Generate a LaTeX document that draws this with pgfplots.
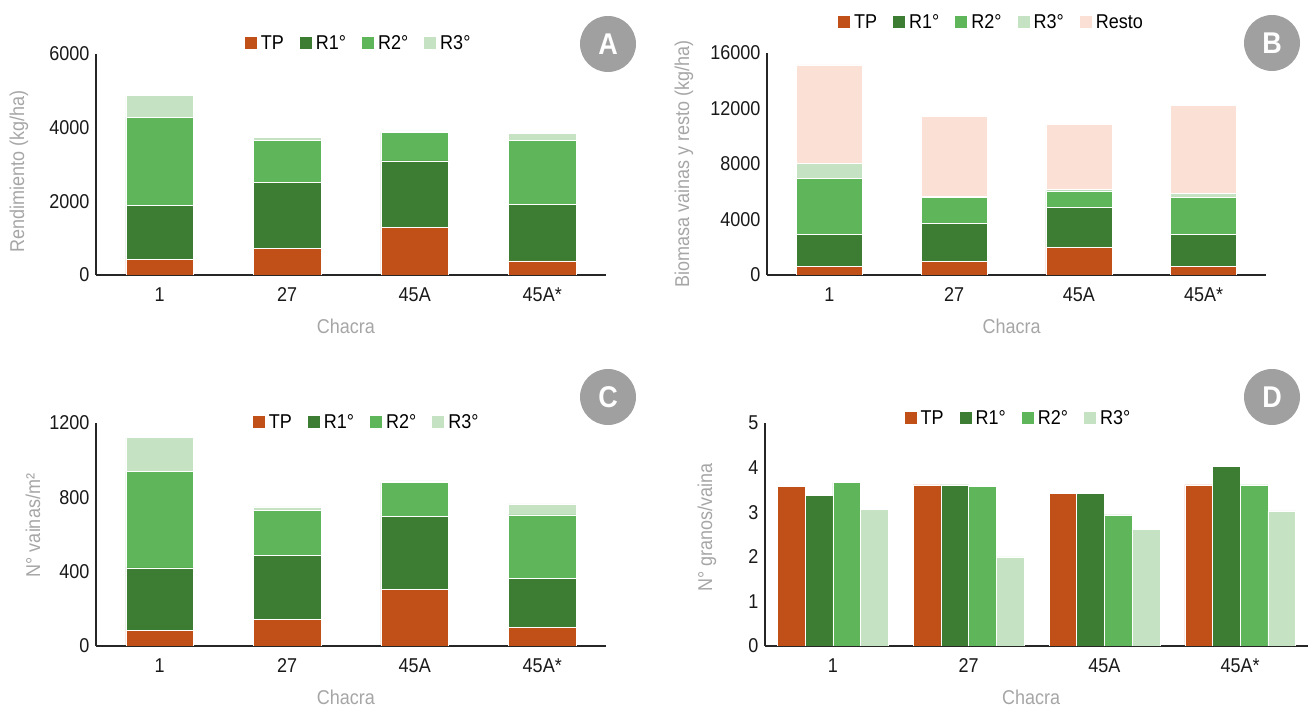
\documentclass[border=0pt]{standalone}
\usepackage{fontspec}
\setmainfont{Liberation Sans}[FakeStretch=0.9]
\usepackage{pgfplots}
\pgfplotsset{compat=1.18}
\definecolor{cTP}{RGB}{192,79,24}
\definecolor{cR1}{RGB}{61,125,51}
\definecolor{cR2}{RGB}{95,181,90}
\definecolor{cR3}{RGB}{197,226,195}
\definecolor{cRe}{RGB}{251,224,213}
\definecolor{labgray}{RGB}{166,166,166}
\definecolor{circgray}{RGB}{160,160,160}
\newcommand\fs{\fontsize{20}{24}\selectfont}
\pgfplotsset{
 panel/.style={
  scale only axis, anchor=south west,
  axis x line*=bottom, axis y line*=left,
  axis line style={line width=1.2pt, black!85, -},
  major tick length=0pt,
  xmin=-0.5, xmax=3.5, xtick={0,1,2,3}, xticklabels={1,27,45A,45A*},
  ymin=0, scaled y ticks=false,
  tick label style={font=\fs, text=black!90},
  xticklabel style={yshift=-9pt},
  yticklabel style={xshift=-3pt},
  /pgf/number format/assume math mode=true,
  /pgf/number format/1000 sep={},
  label style={font=\fs, text=labgray},
  legend style={draw=none, fill=none, font=\fs,
    legend columns=-1, anchor=center,
    nodes={inner sep=1pt},
    /tikz/every odd column/.append style={column sep=3pt},
    /tikz/every even column/.append style={column sep=15pt}},
  xlabel=Chacra,
  xlabel style={at={(rel axis cs:0.49,0)}, anchor=center, yshift=-51pt},
 },
 sqleg/.style={legend image code/.code={\fill[##1, draw=none] (0pt,-6pt) rectangle (12pt,6pt);}},
 stk/.style={ybar stacked, bar width=0.53, draw=white, line width=0.5pt, sqleg},
}
\begin{document}
\begin{tikzpicture}
\useasboundingbox (0,0) rectangle (1309pt,706pt);
% ---------- A ----------
\begin{axis}[panel, stk, at={(96pt,431pt)}, width=510pt, height=221pt,
  ymax=6000, ytick={0,2000,4000,6000},
  ylabel={Rendimiento (kg/ha)},
  ylabel style={at={([xshift=-77pt]rel axis cs:0,0.47)}, anchor=center},
  legend style={at={(rel axis cs:0.514,1.05)}}]
\addplot[fill=cTP] coordinates {(0,430) (1,720) (2,1300) (3,380)};
\addplot[fill=cR1] coordinates {(0,1460) (1,1790) (2,1800) (3,1540)};
\addplot[fill=cR2] coordinates {(0,2390) (1,1140) (2,770) (3,1730)};
\addplot[fill=cR3] coordinates {(0,590) (1,85) (2,45) (3,195)};
\legend{TP,R1°,R2°,R3°}
\end{axis}
% ---------- B ----------
\begin{axis}[panel, stk, at={(767pt,431pt)}, width=499pt, height=222pt,
  ymax=16000, ytick={0,4000,8000,12000,16000},
  ylabel={Biomasa vainas y resto (kg/ha)},
  ylabel style={at={([xshift=-83pt]rel axis cs:0,0.5)}, anchor=center},
  legend style={at={(rel axis cs:0.449,1.14)}}]
\addplot[fill=cTP] coordinates {(0,625) (1,990) (2,2000) (3,625)};
\addplot[fill=cR1] coordinates {(0,2305) (1,2740) (2,2880) (3,2305)};
\addplot[fill=cR2] coordinates {(0,4020) (1,1870) (2,1180) (3,2670)};
\addplot[fill=cR3] coordinates {(0,1080) (1,70) (2,90) (3,290)};
\addplot[fill=cRe] coordinates {(0,7110) (1,5770) (2,4690) (3,6320)};
\legend{TP,R1°,R2°,R3°,Resto}
\end{axis}
% ---------- C ----------
\begin{axis}[panel, stk, at={(96pt,60pt)}, width=510pt, height=223pt,
  ymax=1200, ytick={0,400,800,1200},
  ylabel={N° vainas/m²},
  ylabel style={at={([xshift=-63pt]rel axis cs:0,0.54)}, anchor=center},
  legend style={at={(rel axis cs:0.53,1.004)}}]
\addplot[fill=cTP] coordinates {(0,85) (1,142) (2,304) (3,99)};
\addplot[fill=cR1] coordinates {(0,336) (1,344) (2,392) (3,266)};
\addplot[fill=cR2] coordinates {(0,518) (1,243) (2,184) (3,340)};
\addplot[fill=cR3] coordinates {(0,182) (1,19) (2,9) (3,60)};
\legend{TP,R1°,R2°,R3°}
\end{axis}
% ---------- D ----------
\begin{axis}[panel, at={(765pt,60pt)}, width=543pt, height=223pt,
  ybar=0pt, bar width=0.204, sqleg,
  ymax=5, ytick={0,1,2,3,4,5},
  ylabel={N° granos/vaina},
  ylabel style={at={([xshift=-58pt]rel axis cs:0,0.53)}, anchor=center},
  legend style={at={(rel axis cs:0.466,1.022)}}]
\addplot[fill=cTP, draw=white, line width=0.5pt] coordinates {(0,3.58) (1,3.61) (2,3.43) (3,3.61)};
\addplot[fill=cR1, draw=white, line width=0.5pt] coordinates {(0,3.37) (1,3.61) (2,3.43) (3,4.03)};
\addplot[fill=cR2, draw=white, line width=0.5pt] coordinates {(0,3.67) (1,3.58) (2,2.94) (3,3.61)};
\addplot[fill=cR3, draw=white, line width=0.5pt] coordinates {(0,3.07) (1,2.00) (2,2.61) (3,3.03)};
\legend{TP,R1°,R2°,R3°}
\end{axis}
% ---------- panel letters ----------
\foreach \px/\py/\lt in {608/662/A, 1272/663/B, 608/309/C, 1272/309/D}{
  \fill[circgray] (\px pt,\py pt) circle (28pt);
  \node[text=white, font=\bfseries\fontsize{30}{30}\selectfont] at (\px pt,\py pt) {\lt};
}
\end{tikzpicture}
\end{document}
